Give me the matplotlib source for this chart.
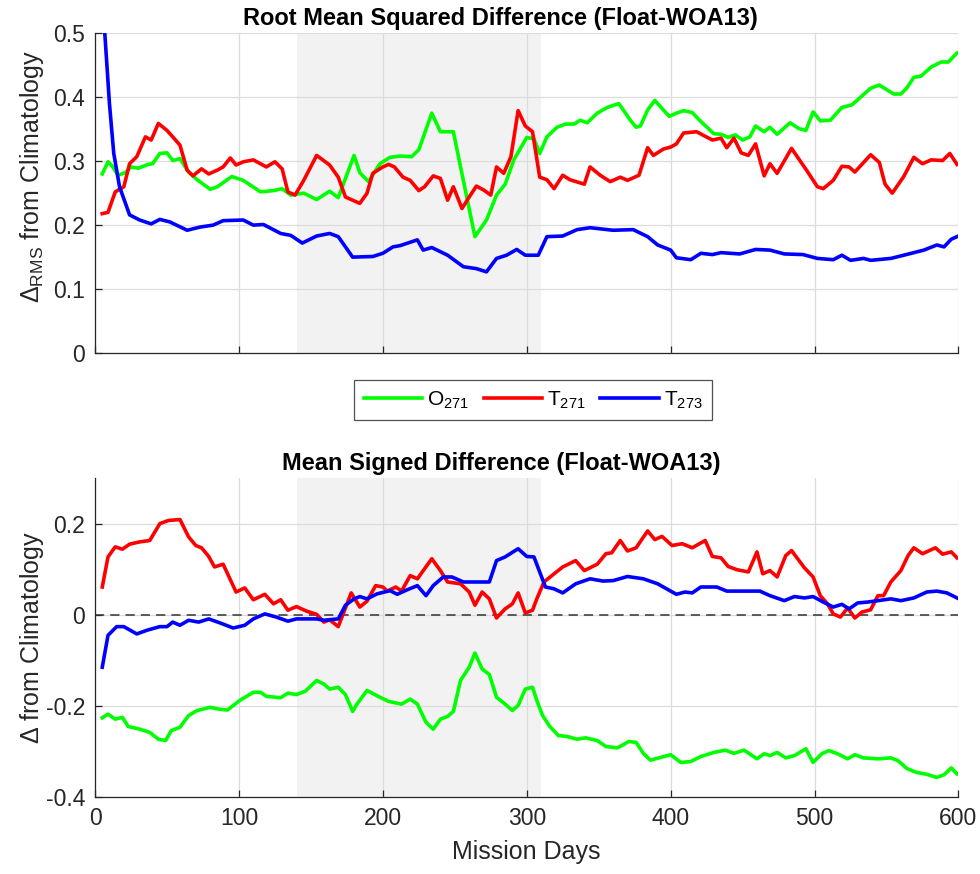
import matplotlib
matplotlib.use("Agg")
import matplotlib.pyplot as plt

plt.rcParams["font.family"] = ["Liberation Sans", "DejaVu Sans"]
plt.rcParams["mathtext.fontset"] = "custom"
plt.rcParams["mathtext.rm"] = "Liberation Sans"
plt.rcParams["mathtext.it"] = "Liberation Sans:italic"
plt.rcParams["mathtext.bf"] = "Liberation Sans:bold"

# ---- Root mean squared difference ----
rms_o271_days = [5, 9, 12, 16, 21, 25, 30, 37, 40, 45, 50, 54, 59, 65, 71, 80, 85, 95, 103, 115,
                 124, 130, 136, 145, 154, 163, 169, 180, 184, 190, 198, 205, 212, 220, 225, 234,
                 240, 249, 254, 264, 272, 279, 285, 291, 300, 305, 309, 314, 321, 327, 333, 337,
                 342, 349, 356, 364, 372, 376, 379, 384, 389, 399, 404, 409, 415, 421, 430, 435,
                 440, 445, 450, 455, 459, 465, 469, 474, 483, 489, 494, 499, 504, 511, 519, 526,
                 533, 539, 545, 555, 560, 564, 569, 574, 581, 588, 593, 599]
rms_o271 = [0.280, 0.299, 0.292, 0.278, 0.282, 0.291, 0.289, 0.295, 0.296, 0.312, 0.313, 0.301,
            0.304, 0.283, 0.271, 0.256, 0.260, 0.276, 0.270, 0.252, 0.254, 0.257, 0.247, 0.250,
            0.240, 0.253, 0.243, 0.309, 0.282, 0.268, 0.296, 0.306, 0.308, 0.307, 0.318, 0.375,
            0.346, 0.346, 0.291, 0.182, 0.208, 0.247, 0.264, 0.302, 0.337, 0.335, 0.312, 0.338,
            0.353, 0.358, 0.358, 0.364, 0.360, 0.375, 0.384, 0.390, 0.364, 0.353, 0.355, 0.380,
            0.395, 0.370, 0.375, 0.379, 0.376, 0.362, 0.343, 0.342, 0.337, 0.341, 0.333, 0.338,
            0.355, 0.346, 0.353, 0.342, 0.360, 0.351, 0.348, 0.377, 0.363, 0.364, 0.384, 0.388,
            0.402, 0.414, 0.419, 0.405, 0.405, 0.414, 0.431, 0.433, 0.447, 0.455, 0.455, 0.469]

rms_t271_days = [5, 9, 14, 20, 24, 29, 35, 39, 44, 50, 54, 59, 64, 68, 74, 79, 85, 89, 94, 98,
                 103, 110, 119, 125, 130, 134, 139, 145, 154, 163, 169, 174, 179, 184, 189, 193,
                 200, 204, 208, 214, 219, 225, 229, 235, 240, 245, 249, 255, 260, 265, 270, 275,
                 279, 284, 289, 294, 299, 304, 309, 314, 319, 325, 330, 340, 344, 351, 358, 365,
                 370, 378, 384, 388, 395, 400, 404, 409, 418, 429, 435, 439, 444, 449, 454, 459,
                 465, 469, 474, 484, 495, 502, 506, 513, 519, 524, 528, 539, 545, 549, 554, 562,
                 569, 575, 581, 589, 594, 599]
rms_t271 = [0.218, 0.220, 0.252, 0.260, 0.296, 0.307, 0.338, 0.333, 0.359, 0.348, 0.338, 0.325,
            0.286, 0.277, 0.288, 0.280, 0.286, 0.291, 0.305, 0.294, 0.299, 0.302, 0.291, 0.299,
            0.288, 0.252, 0.247, 0.270, 0.309, 0.294, 0.275, 0.244, 0.239, 0.234, 0.250, 0.281,
            0.291, 0.295, 0.291, 0.275, 0.270, 0.254, 0.260, 0.277, 0.273, 0.239, 0.260, 0.226,
            0.244, 0.261, 0.255, 0.247, 0.291, 0.281, 0.307, 0.379, 0.355, 0.346, 0.275, 0.271,
            0.257, 0.278, 0.271, 0.264, 0.291, 0.278, 0.268, 0.275, 0.270, 0.278, 0.321, 0.309,
            0.319, 0.322, 0.327, 0.344, 0.346, 0.333, 0.336, 0.321, 0.336, 0.313, 0.309, 0.327,
            0.277, 0.296, 0.281, 0.320, 0.284, 0.260, 0.257, 0.270, 0.292, 0.291, 0.283, 0.310,
            0.298, 0.264, 0.250, 0.276, 0.306, 0.296, 0.302, 0.301, 0.312, 0.295]

rms_t273_days = [5, 10, 13, 17, 24, 31, 39, 45, 52, 64, 73, 82, 89, 103, 110, 117, 129, 136, 144,
                 154, 163, 169, 179, 193, 200, 207, 212, 224, 228, 234, 245, 256, 265, 272, 279,
                 286, 293, 299, 308, 314, 325, 335, 344, 360, 374, 384, 391, 400, 404, 414, 421,
                 429, 435, 448, 459, 469, 479, 492, 502, 513, 519, 525, 534, 539, 553, 562, 576,
                 585, 590, 595, 599]
rms_t273 = [0.560, 0.390, 0.312, 0.260, 0.216, 0.208, 0.202, 0.209, 0.205, 0.192, 0.197, 0.200,
            0.207, 0.208, 0.200, 0.201, 0.187, 0.184, 0.172, 0.183, 0.187, 0.182, 0.150, 0.151,
            0.156, 0.166, 0.168, 0.177, 0.161, 0.165, 0.153, 0.135, 0.132, 0.127, 0.148, 0.153,
            0.162, 0.153, 0.153, 0.182, 0.183, 0.193, 0.196, 0.192, 0.193, 0.182, 0.169, 0.161,
            0.149, 0.146, 0.156, 0.154, 0.157, 0.155, 0.162, 0.161, 0.155, 0.154, 0.148, 0.146,
            0.153, 0.145, 0.148, 0.145, 0.148, 0.153, 0.161, 0.169, 0.166, 0.178, 0.182]

# ---- Mean signed difference ----
msd_o271_days = [5, 9, 14, 19, 23, 31, 38, 44, 49, 53, 59, 65, 71, 80, 86, 92, 101, 110, 115, 119,
                 129, 134, 140, 146, 154, 159, 163, 169, 174, 179, 182, 189, 198, 204, 213, 219,
                 224, 230, 235, 240, 245, 249, 254, 260, 264, 269, 274, 279, 285, 290, 294, 299,
                 304, 307, 311, 316, 322, 328, 335, 341, 349, 355, 363, 371, 376, 381, 386, 393,
                 400, 407, 414, 421, 430, 438, 444, 451, 460, 465, 469, 474, 480, 486, 494, 499,
                 505, 510, 516, 523, 528, 534, 544, 553, 558, 564, 571, 578, 585, 590, 595, 599]
msd_o271 = [-0.226, -0.218, -0.229, -0.225, -0.245, -0.251, -0.258, -0.273, -0.276, -0.254,
            -0.247, -0.221, -0.210, -0.203, -0.207, -0.209, -0.187, -0.170, -0.170, -0.179,
            -0.182, -0.172, -0.175, -0.168, -0.144, -0.152, -0.163, -0.159, -0.175, -0.212,
            -0.196, -0.166, -0.181, -0.190, -0.196, -0.185, -0.196, -0.236, -0.251, -0.229,
            -0.223, -0.212, -0.144, -0.115, -0.084, -0.119, -0.131, -0.181, -0.196, -0.210,
            -0.199, -0.163, -0.159, -0.188, -0.221, -0.245, -0.265, -0.267, -0.273, -0.270,
            -0.276, -0.289, -0.292, -0.278, -0.280, -0.304, -0.319, -0.313, -0.307, -0.324,
            -0.322, -0.311, -0.302, -0.297, -0.304, -0.297, -0.316, -0.305, -0.309, -0.302,
            -0.314, -0.309, -0.294, -0.324, -0.305, -0.298, -0.305, -0.316, -0.307, -0.314,
            -0.316, -0.314, -0.320, -0.337, -0.346, -0.350, -0.357, -0.351, -0.336, -0.349]

msd_t271_days = [5, 9, 14, 19, 24, 31, 38, 45, 51, 59, 65, 70, 74, 79, 83, 89, 98, 104, 110, 118,
                 124, 129, 134, 140, 147, 154, 159, 163, 169, 178, 184, 189, 195, 200, 203, 209,
                 213, 219, 224, 234, 240, 245, 254, 260, 264, 269, 274, 279, 285, 290, 294, 299,
                 304, 307, 312, 319, 325, 334, 340, 349, 355, 359, 365, 370, 376, 384, 389, 394,
                 401, 408, 415, 424, 429, 435, 440, 446, 454, 460, 464, 469, 474, 480, 484, 493,
                 499, 504, 509, 513, 518, 523, 528, 533, 539, 544, 548, 553, 560, 565, 569, 575,
                 584, 589, 595, 599]
msd_t271 = [0.061, 0.127, 0.149, 0.144, 0.155, 0.160, 0.163, 0.200, 0.207, 0.209, 0.171, 0.152,
            0.147, 0.128, 0.105, 0.111, 0.050, 0.059, 0.033, 0.045, 0.024, 0.033, 0.010, 0.018,
            0.008, 0.001, -0.016, -0.011, -0.026, 0.048, 0.017, 0.030, 0.064, 0.061, 0.052, 0.061,
            0.052, 0.086, 0.079, 0.123, 0.097, 0.072, 0.068, 0.050, 0.021, 0.050, 0.035, -0.007,
            0.013, 0.024, 0.048, 0.004, 0.010, 0.035, 0.072, 0.090, 0.105, 0.119, 0.097, 0.111,
            0.134, 0.136, 0.163, 0.140, 0.147, 0.184, 0.165, 0.172, 0.152, 0.156, 0.147, 0.163,
            0.128, 0.125, 0.106, 0.099, 0.094, 0.138, 0.090, 0.097, 0.083, 0.130, 0.141, 0.103,
            0.083, 0.042, 0.024, 0.002, -0.005, 0.015, -0.007, 0.006, 0.011, 0.042, 0.042, 0.072,
            0.097, 0.130, 0.147, 0.134, 0.147, 0.133, 0.138, 0.125]

msd_t273_days = [5, 9, 15, 20, 29, 36, 45, 50, 54, 59, 65, 72, 79, 87, 96, 104, 110, 118, 126, 134,
                 140, 154, 159, 169, 174, 180, 184, 189, 196, 205, 210, 217, 224, 230, 235, 242,
                 248, 256, 265, 274, 279, 285, 294, 300, 305, 313, 319, 325, 334, 344, 353, 360,
                 370, 381, 391, 400, 404, 410, 415, 421, 432, 439, 453, 462, 469, 479, 486, 493,
                 499, 506, 513, 519, 524, 530, 537, 544, 553, 560, 569, 578, 585, 592, 599]
msd_t273 = [-0.115, -0.045, -0.026, -0.026, -0.042, -0.034, -0.026, -0.026, -0.016, -0.023,
            -0.012, -0.016, -0.009, -0.018, -0.029, -0.023, -0.009, 0.002, -0.005, -0.014,
            -0.009, -0.009, -0.012, -0.009, 0.021, 0.035, 0.040, 0.035, 0.046, 0.053, 0.045,
            0.055, 0.064, 0.042, 0.064, 0.083, 0.083, 0.072, 0.072, 0.072, 0.119, 0.127, 0.145,
            0.128, 0.127, 0.061, 0.057, 0.048, 0.068, 0.079, 0.074, 0.075, 0.084, 0.079, 0.068,
            0.052, 0.045, 0.050, 0.048, 0.061, 0.061, 0.052, 0.052, 0.052, 0.042, 0.031, 0.040,
            0.037, 0.040, 0.028, 0.017, 0.023, 0.013, 0.026, 0.028, 0.031, 0.035, 0.031, 0.037,
            0.050, 0.052, 0.048, 0.037]

series_labels = ["O$_{271}$", "T$_{271}$", "T$_{273}$"]
series_colors = ["#00ff00", "#ff0000", "#0000ff"]
shade_days = (140, 310)

x_ticks = [0, 100, 200, 300, 400, 500, 600]
rms_ticks = [0, 0.1, 0.2, 0.3, 0.4, 0.5]
msd_ticks = [-0.4, -0.2, 0, 0.2]

ink = "#262626"
grid_col = "#dcdcdc"
tick_fs = 16.5
label_fs = 18
title_fs = 17
legend_fs = 15
title_x = 0.47
ylabel_x = -0.057


def style_axes(ax):
    for side in ("top", "right"):
        ax.spines[side].set_visible(False)
    for side in ("left", "bottom"):
        ax.spines[side].set_color(ink)
        ax.spines[side].set_linewidth(0.9)
    ax.tick_params(direction="in", length=5, width=0.9, colors=ink, labelsize=tick_fs,
                   labelcolor=ink, pad=7)
    ax.grid(True, color=grid_col, linewidth=0.9)
    ax.set_axisbelow(True)
    ax.axvspan(*shade_days, color="#f2f2f2", zorder=0, lw=0)


fig = plt.figure(figsize=(9.8, 8.74), dpi=100)
ax1 = fig.add_axes([0.097, 0.596, 0.881, 0.366])
ax2 = fig.add_axes([0.097, 0.088, 0.881, 0.365])

lw = 2.6
h1, = ax1.plot(rms_o271_days, rms_o271, color=series_colors[0], lw=lw, zorder=3)
h2, = ax1.plot(rms_t271_days, rms_t271, color=series_colors[1], lw=lw, zorder=3)
h3, = ax1.plot(rms_t273_days, rms_t273, color=series_colors[2], lw=lw, zorder=3)
style_axes(ax1)
ax1.set_xlim(0, 600)
ax1.set_ylim(0, 0.5)
ax1.set_xticks(x_ticks)
ax1.set_xticklabels([])
ax1.set_yticks(rms_ticks)
ax1.set_yticklabels(["0", "0.1", "0.2", "0.3", "0.4", "0.5"])
ax1.set_ylabel(r"$\Delta_{\mathrm{RMS}}$ from Climatology", fontsize=label_fs, color=ink)
ax1.yaxis.set_label_coords(ylabel_x, 0.553)
ax1.set_title("Root Mean Squared Difference (Float-WOA13)", fontsize=title_fs,
              fontweight="bold", color="black", pad=6, x=title_x)

ax2.axhline(0, color="#333333", lw=1.1, ls=(0, (6, 4)), zorder=2)
ax2.plot(msd_o271_days, msd_o271, color=series_colors[0], lw=lw, zorder=3)
ax2.plot(msd_t271_days, msd_t271, color=series_colors[1], lw=lw, zorder=3)
ax2.plot(msd_t273_days, msd_t273, color=series_colors[2], lw=lw, zorder=3)
style_axes(ax2)
ax2.set_xlim(0, 600)
ax2.set_ylim(-0.4, 0.3)
ax2.set_xticks(x_ticks)
ax2.set_yticks(msd_ticks)
ax2.set_yticklabels(["-0.4", "-0.2", "0", "0.2"])
ax2.set_xlabel("Mission Days", fontsize=label_fs, color=ink)
ax2.xaxis.set_label_coords(0.5, -0.135)
ax2.set_ylabel(r"$\Delta$ from Climatology", fontsize=label_fs, color=ink)
ax2.yaxis.set_label_coords(ylabel_x, 0.5)
ax2.set_title("Mean Signed Difference (Float-WOA13)", fontsize=title_fs, fontweight="bold",
              color="black", pad=6, x=title_x)

leg = fig.legend([h1, h2, h3], series_labels, loc="center", bbox_to_anchor=(0.544, 0.5423),
                 ncol=3, frameon=True, fancybox=False, edgecolor=ink, fontsize=legend_fs,
                 handlelength=2.8, handletextpad=0.25, columnspacing=0.7, borderpad=0.45)
leg.get_frame().set_linewidth(0.9)

fig.savefig("out.png", dpi=100)
